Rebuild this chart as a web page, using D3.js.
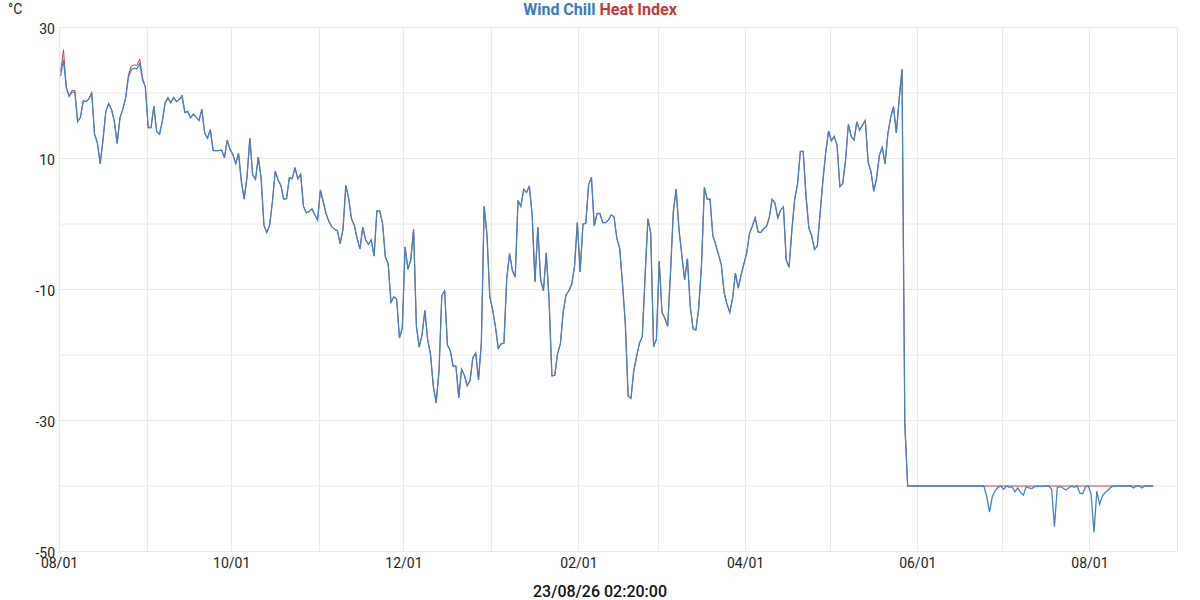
<!DOCTYPE html>
<html>
<head>
<meta charset="utf-8">
<script src="https://cdn.jsdelivr.net/npm/d3@7"></script>
<style>
body { margin: 0; background: #fff; }
text { font-family: Roboto, "Noto Sans", sans-serif; }
</style>
</head>
<body>
<div id="chart"></div>
<script>
// one value per day, first reading 2025-08-01
var firstReading = "2025-08-01T10:00";
var axisStart = "2025-08-01";
var axisEnd = "2026-09-01";

var windChill = [
    22.6, 25.1, 20.8, 19.5, 20.1, 20.2, 15.6, 16.3, 18.8, 18.7,
    19.1, 20.0, 13.7, 12.4, 9.2, 12.9, 17.2, 18.4, 17.5, 15.7,
    12.3, 16.2, 17.5, 19.2, 22.4, 23.6, 23.8, 23.7, 24.5, 22.0,
    20.9, 14.7, 14.7, 18.0, 14.1, 13.7, 15.7, 18.5, 19.2, 18.5,
    19.3, 18.7, 19.0, 19.4, 17.0, 17.2, 16.2, 16.8, 16.3, 15.8,
    17.5, 13.9, 13.1, 14.4, 11.2, 11.2, 11.2, 11.3, 10.1, 12.8,
    11.4, 10.6, 9.2, 10.8, 6.5, 3.8, 7.2, 13.1, 7.5, 6.8,
    10.2, 7.0, -0.2, -1.3, -0.2, 3.4, 8.1, 6.7, 5.9, 3.8,
    3.9, 7.1, 6.9, 8.6, 6.9, 7.6, 2.7, 1.7, 1.9, 2.3,
    1.4, 0.6, 5.2, 3.4, 1.6, 0.4, -0.4, -0.8, -1.0, -3.0,
    -0.8, 5.9, 3.9, 0.8, -0.2, -2.2, -3.8, -0.5, -2.4, -3.1,
    -2.4, -4.9, 2.0, 2.0, 0.1, -5.0, -6.1, -12.0, -11.1, -11.5,
    -17.4, -15.9, -3.5, -6.9, -5.5, -0.8, -15.6, -18.8, -16.9, -13.2,
    -17.7, -19.9, -24.8, -27.3, -22.5, -10.9, -10.2, -18.5, -19.3, -21.7,
    -21.7, -26.5, -22.2, -23.1, -24.7, -23.9, -20.4, -19.7, -23.8, -18.2,
    2.7, -1.7, -11.1, -13.1, -15.7, -19.0, -18.3, -18.2, -8.3, -4.5,
    -7.1, -8.1, 3.6, 2.7, 5.3, 4.8, 5.8, 1.4, -8.8, -0.5,
    -8.5, -10.2, -4.4, -11.7, -23.2, -23.1, -19.8, -18.3, -13.4, -10.8,
    -10.2, -9.2, -6.5, 0.2, -7.3, 0.0, 0.1, 6.0, 7.1, -0.3,
    1.6, 1.6, 0.2, 0.2, 0.6, 1.4, 1.1, -2.2, -3.7, -9.1,
    -15.2, -26.3, -26.6, -22.4, -20.2, -18.2, -17.2, -8.0, 0.8, -1.4,
    -18.7, -17.6, -5.7, -13.5, -14.4, -15.6, -7.5, 1.9, 5.3, -0.8,
    -4.7, -8.5, -5.3, -12.6, -16.0, -16.2, -12.8, -6.1, 5.6, 3.8,
    3.8, -1.8, -3.1, -4.7, -6.2, -10.5, -12.2, -13.5, -11.3, -7.5,
    -9.8, -7.8, -6.1, -4.4, -1.4, -0.3, 1.0, -1.2, -1.3, -0.7,
    -0.4, 1.0, 3.8, 3.2, 0.9, 2.1, 2.6, -5.5, -6.6, -0.9,
    3.8, 6.1, 11.1, 11.1, 4.3, -0.6, -1.8, -3.9, -3.4, 1.7,
    6.7, 11.0, 14.2, 12.7, 13.4, 12.0, 5.7, 6.2, 9.7, 15.2,
    13.4, 12.8, 15.6, 14.3, 15.1, 15.8, 9.5, 8.0, 5.0, 7.0,
    10.5, 11.7, 9.2, 13.8, 16.3, 17.9, 13.9, 19.1, 23.6, -30.5,
    -40, -40, -40, -40, -40, -40, -40, -40, -40, -40,
    -40, -40, -40, -40, -40, -40, -40, -40, -40, -40,
    -40, -40, -40, -40, -40, -40, -40, -40, -41.6, -44.0,
    -41.6, -40.7, -40.2, -40.0, -40.5, -40.0, -40.2, -40.1, -40.9, -40.3,
    -41.0, -41.4, -40.1, -40.3, -40.4, -40.1, -40.0, -40.1, -40.0, -40.0,
    -40.0, -40.5, -46.2, -40.2, -40.1, -40.3, -40.6, -40.3, -40.0, -40.2,
    -40.0, -41.1, -41.2, -40.1, -40.0, -41.3, -47.1, -40.8, -42.8, -41.5,
    -41.0, -40.6, -40.2, -40, -40, -40, -40, -40, -40, -40,
    -40.3, -40, -40, -40.3, -40, -40, -40, -40
];

var heatIndex = [
    23.3, 26.6, 20.8, 19.5, 20.4, 20.4, 15.6, 16.3, 18.8, 18.7,
    19.1, 20.0, 13.7, 12.4, 9.2, 12.9, 17.2, 18.4, 17.5, 15.7,
    12.3, 16.2, 17.5, 19.2, 22.8, 24.1, 24.3, 24.2, 25.2, 22.3,
    20.9, 14.7, 14.7, 18.0, 14.1, 13.7, 15.7, 18.5, 19.4, 18.5,
    19.3, 18.7, 19.0, 19.7, 17.0, 17.2, 16.2, 16.8, 16.3, 15.8,
    17.5, 13.9, 13.1, 14.4, 11.2, 11.2, 11.2, 11.3, 10.1, 12.8,
    11.4, 10.6, 9.2, 10.8, 6.5, 3.8, 7.2, 13.1, 7.5, 6.8,
    10.2, 7.0, -0.2, -1.3, -0.2, 3.4, 8.1, 6.7, 5.9, 3.8,
    3.9, 7.1, 6.9, 8.6, 6.9, 7.6, 2.7, 1.7, 1.9, 2.3,
    1.4, 0.6, 5.2, 3.4, 1.6, 0.4, -0.4, -0.8, -1.0, -3.0,
    -0.8, 5.9, 3.9, 0.8, -0.2, -2.2, -3.8, -0.5, -2.4, -3.1,
    -2.4, -4.9, 2.0, 2.0, 0.1, -5.0, -6.1, -12.0, -11.1, -11.5,
    -17.4, -15.9, -3.5, -6.9, -5.5, -0.8, -15.6, -18.8, -16.9, -13.2,
    -17.7, -19.9, -24.8, -27.3, -22.5, -10.9, -10.2, -18.5, -19.3, -21.7,
    -21.7, -26.5, -22.2, -23.1, -24.7, -23.9, -20.4, -19.7, -23.8, -18.2,
    2.7, -1.7, -11.1, -13.1, -15.7, -19.0, -18.3, -18.2, -8.3, -4.5,
    -7.1, -8.1, 3.6, 2.7, 5.3, 4.8, 5.8, 1.4, -8.8, -0.5,
    -8.5, -10.2, -4.4, -11.7, -23.2, -23.1, -19.8, -18.3, -13.4, -10.8,
    -10.2, -9.2, -6.5, 0.2, -7.3, 0.0, 0.1, 6.0, 7.1, -0.3,
    1.6, 1.6, 0.2, 0.2, 0.6, 1.4, 1.1, -2.2, -3.7, -9.1,
    -15.2, -26.3, -26.6, -22.4, -20.2, -18.2, -17.2, -8.0, 0.8, -1.4,
    -18.7, -17.6, -5.7, -13.5, -14.4, -15.6, -7.5, 1.9, 5.3, -0.8,
    -4.7, -8.5, -5.3, -12.6, -16.0, -16.2, -12.8, -6.1, 5.6, 3.8,
    3.8, -1.8, -3.1, -4.7, -6.2, -10.5, -12.2, -13.5, -11.3, -7.5,
    -9.8, -7.8, -6.1, -4.4, -1.4, -0.3, 1.0, -1.2, -1.3, -0.7,
    -0.4, 1.0, 3.8, 3.2, 0.9, 2.1, 2.6, -5.5, -6.6, -0.9,
    3.8, 6.1, 11.1, 11.1, 4.3, -0.6, -1.8, -3.9, -3.4, 1.7,
    6.7, 11.0, 14.2, 12.7, 13.4, 12.0, 5.7, 6.2, 9.7, 15.2,
    13.4, 12.8, 15.6, 14.3, 15.1, 15.8, 9.5, 8.0, 5.0, 7.0,
    10.5, 11.7, 9.2, 13.8, 16.3, 17.9, 13.9, 19.1, 23.6, -30.5,
    -40, -40, -40, -40, -40, -40, -40, -40, -40, -40,
    -40, -40, -40, -40, -40, -40, -40, -40, -40, -40,
    -40, -40, -40, -40, -40, -40, -40, -40, -40, -40,
    -40, -40, -40, -40, -40, -40, -40, -40, -40, -40,
    -40, -40, -40, -40, -40, -40, -40, -40, -40, -40,
    -40, -40, -40, -40, -40, -40, -40, -40, -40, -40,
    -40, -40, -40, -40, -40, -40, -40, -40, -40, -40,
    -40, -40, -40, -40, -40, -40, -40, -40, -40, -40,
    -40, -40, -40, -40, -40, -40, -40, -40
];

var yGrid = [-50, -40, -30, -20, -10, 0, 10, 20, 30];
var yLabels = [30, 10, -10, -30, -50];
var unitLabel = "°C";
var titleParts = [["Wind Chill", "#3a7bbd"], ["Heat Index", "#c0393b"]];
var stamp = "23/08/26 02:20:00";

var W = 1200, H = 600;
var plotLeft = 59.5, plotRight = 1177.5, plotTop = 27.5, plotBottom = 551.5;

var svg = d3.select("#chart")
    .append("svg")
    .attr("width", W)
    .attr("height", H);

var x = d3.scaleUtc()
    .domain([d3.utcParse("%Y-%m-%d")(axisStart), d3.utcParse("%Y-%m-%d")(axisEnd)])
    .range([plotLeft, plotRight]);

var y = d3.scaleLinear()
    .domain([-50, 30])
    .range([plotBottom, plotTop]);

var first = d3.utcParse("%Y-%m-%dT%H:%M")(firstReading);

function toPoints(values) {
    return values.map(function(v, i) {
        return { date: d3.utcDay.offset(first, i), v: v };
    });
}

// grid
var months = d3.utcMonth.range(x.domain()[0], d3.utcDay.offset(x.domain()[1], 1));

svg.append("g")
    .selectAll("line")
    .data(yGrid)
    .enter()
    .append("line")
    .attr("x1", plotLeft)
    .attr("x2", plotRight)
    .attr("y1", function(d) { return y(d); })
    .attr("y2", function(d) { return y(d); })
    .attr("stroke", "#e8e8e8")
    .attr("stroke-width", 1);

svg.append("g")
    .selectAll("line")
    .data(months)
    .enter()
    .append("line")
    .attr("x1", function(d) { return Math.round(x(d) - 0.5) + 0.5; })
    .attr("x2", function(d) { return Math.round(x(d) - 0.5) + 0.5; })
    .attr("y1", plotTop)
    .attr("y2", plotBottom)
    .attr("stroke", "#e8e8e8")
    .attr("stroke-width", 1);

// axis labels
svg.append("g")
    .selectAll("text")
    .data(yLabels)
    .enter()
    .append("text")
    .text(function(d) { return d; })
    .attr("x", 55)
    .attr("y", function(d) { return y(d) + 6; })
    .attr("text-anchor", "end")
    .attr("font-size", "14px")
    .attr("fill", "#222");

var fmt = d3.utcFormat("%m/%d");
svg.append("g")
    .selectAll("text")
    .data(months.filter(function(d, i) { return i % 2 == 0; }))
    .enter()
    .append("text")
    .text(function(d) { return fmt(d); })
    .attr("x", function(d) { return x(d); })
    .attr("y", 568)
    .attr("text-anchor", "middle")
    .attr("font-size", "14px")
    .attr("fill", "#222");

svg.append("text")
    .text(unitLabel)
    .attr("x", 8)
    .attr("y", 14)
    .attr("font-size", "14px")
    .attr("fill", "#222");

// title
var title = svg.append("text")
    .attr("x", W / 2)
    .attr("y", 15)
    .attr("text-anchor", "middle")
    .attr("font-size", "16px")
    .attr("font-weight", "bold");

titleParts.forEach(function(p, i) {
    title.append("tspan")
        .text((i > 0 ? " " : "") + p[0])
        .attr("fill", p[1]);
});

svg.append("text")
    .text(stamp)
    .attr("x", W / 2)
    .attr("y", 597)
    .attr("text-anchor", "middle")
    .attr("font-size", "16px")
    .attr("font-weight", 500)
    .attr("fill", "#111");

// series: heat index underneath, wind chill on top
var line = d3.line()
    .x(function(d) { return x(d.date); })
    .y(function(d) { return y(d.v); });

svg.append("path")
    .datum(toPoints(heatIndex))
    .attr("d", line)
    .attr("fill", "none")
    .attr("stroke", "#cc4444")
    .attr("stroke-width", 1);

svg.append("path")
    .datum(toPoints(windChill))
    .attr("d", line)
    .attr("fill", "none")
    .attr("stroke", "#4282c0")
    .attr("stroke-width", 1.3);
</script>
</body>
</html>
